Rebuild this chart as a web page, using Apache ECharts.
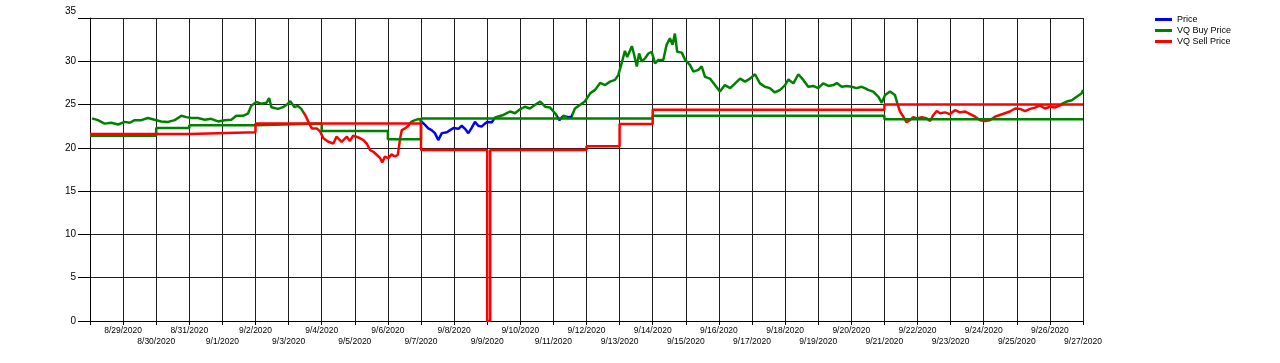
<!DOCTYPE html>
<html>
<head>
<meta charset="utf-8">
<script src="https://cdn.jsdelivr.net/npm/echarts@6/dist/echarts.min.js"></script>
<style>
html,body{margin:0;padding:0;background:#fff;}
#chart{width:1280px;height:363px;}
</style>
</head>
<body>
<div id="chart"></div>
<script>
// x values are days since 8/28/2020
const startYear = 2020, startMonth = 7, startDay = 28;
const seriesNames = ['Price', 'VQ Buy Price', 'VQ Sell Price'];

const priceX = [0.06,0.24,0.44,0.64,0.85,1.05,1.20,1.35,1.55,1.75,1.95,2.15,2.36,2.56,2.76,2.91,3.06,3.26,3.47,3.66,3.87,4.07,4.27,4.42,4.62,4.77,4.87,5.02,5.18,5.33,5.41,5.48,5.68,5.83,5.98,6.05,6.18,6.28,6.38,6.50,6.60,6.70,6.85,6.95,7.05,7.20,7.35,7.45,7.60,7.76,7.85,7.95,8.11,8.26,8.36,8.46,8.56,8.66,8.76,8.83,8.91,9.01,9.11,9.21,9.30,9.37,9.42,9.52,9.62,9.70,9.82,9.94,10.00,10.12,10.22,10.32,10.42,10.52,10.63,10.78,10.88,10.98,11.13,11.23,11.33,11.43,11.53,11.63,11.73,11.83,11.93,12.01,12.14,12.24,12.49,12.69,12.84,12.99,13.14,13.29,13.44,13.60,13.75,13.90,14.05,14.18,14.30,14.45,14.55,14.65,14.80,14.95,15.11,15.26,15.41,15.56,15.71,15.86,15.96,16.06,16.16,16.23,16.37,16.43,16.52,16.59,16.67,16.77,16.87,16.97,17.07,17.17,17.32,17.42,17.52,17.60,17.67,17.74,17.88,17.98,18.13,18.23,18.38,18.48,18.58,18.73,18.88,19.03,19.18,19.34,19.49,19.64,19.79,19.94,20.09,20.24,20.39,20.54,20.69,20.85,21.00,21.10,21.25,21.40,21.55,21.70,21.85,22.00,22.15,22.31,22.46,22.56,22.71,22.86,23.01,23.16,23.31,23.41,23.51,23.66,23.82,23.92,24.02,24.17,24.32,24.39,24.47,24.57,24.67,24.77,24.87,24.98,25.13,25.28,25.38,25.48,25.58,25.68,25.83,25.98,26.13,26.28,26.44,26.59,26.74,26.89,27.04,27.19,27.34,27.49,27.64,27.79,27.95,28.10,28.25,28.40,28.55,28.70,28.85,29.00,29.15,29.31,29.39,29.51,29.66,29.81,29.96,30.00];
const priceY = [23.4,23.2,22.8,22.9,22.7,23.0,22.9,23.2,23.2,23.45,23.25,23.05,23.0,23.2,23.7,23.55,23.45,23.45,23.25,23.35,23.05,23.2,23.25,23.7,23.7,23.95,24.85,25.3,25.1,25.2,25.75,24.7,24.5,24.7,25.1,25.4,24.7,24.85,24.5,23.8,23.0,22.25,22.25,21.9,21.1,20.7,20.5,21.3,20.7,21.3,20.8,21.4,21.2,20.9,20.5,19.75,19.55,19.2,18.85,18.3,19.0,18.8,19.25,19.0,19.2,21.1,22.05,22.25,22.55,23.0,23.2,23.35,23.1,22.65,22.25,22.05,21.7,20.9,21.7,21.8,22.05,22.3,22.2,22.55,22.2,21.7,22.3,23.0,22.55,22.45,22.8,23.0,22.95,23.5,23.8,24.2,24.0,24.45,24.75,24.55,24.95,25.35,24.75,24.65,24.0,23.2,23.7,23.55,23.6,24.55,24.95,25.35,26.3,26.7,27.5,27.25,27.65,27.85,28.4,29.75,31.2,30.5,31.75,30.9,29.4,30.9,29.95,30.35,30.9,31.1,29.75,30.15,30.15,31.9,32.65,31.9,33.2,31.1,31.0,30.15,29.55,28.8,29.0,29.4,28.2,28.0,27.25,26.5,27.25,26.9,27.45,28.0,27.65,28.0,28.5,27.45,27.05,26.9,26.4,26.7,27.25,27.9,27.45,28.5,27.85,27.05,27.15,26.9,27.45,27.15,27.25,27.5,27.05,27.15,27.05,26.9,27.05,26.9,26.7,26.5,25.9,25.2,26.1,26.5,26.1,25.15,24.2,23.6,22.95,23.2,23.55,23.4,23.55,23.4,23.1,23.8,24.25,24.0,24.1,23.9,24.35,24.1,24.2,23.9,23.6,23.2,23.1,23.2,23.6,23.8,24.0,24.2,24.55,24.5,24.25,24.5,24.65,24.9,24.55,24.75,24.65,24.9,25.15,25.35,25.5,25.9,26.3,26.7];

// price segment colouring (x ranges, days)
const priceSegStart = [0, 6.48, 9.67, 10.01, 12.22, 14.12, 14.25, 14.42, 14.55, 24.39, 29.38];
const priceSegColor = ['#008000','#ff0000','#008000','#0000ff','#008000','#0000ff','#008000','#0000ff','#008000','#ff0000','#008000'];

const buyX = [0, 2, 3, 5, 7, 9, 10, 17, 24, 30];
const buyY = [21.4, 22.3, 22.6, 22.8, 21.95, 21.0, 23.4, 23.7, 23.3, 23.3];

const sellX = [0, 3, 5, 10, 12.0, 12.09, 15, 16, 17, 24, 30];
const sellY = [21.6, 21.8, 22.8, 19.75, 0, 19.75, 20.2, 22.75, 24.4, 25.0, 25.0];

const yTicks = [0, 5, 10, 15, 20, 25, 30, 35];

function pairs(xs, ys) { return xs.map((x, i) => [x, ys[i]]); }
function dayLabel(d) {
  const dt = new Date(startYear, startMonth, startDay + d);
  return (dt.getMonth() + 1) + '/' + dt.getDate() + '/' + dt.getFullYear();
}

const pieces = priceSegStart.map((s, i) => {
  const p = { color: priceSegColor[i] };
  if (i > 0) p.gte = s;
  if (i < priceSegStart.length - 1) p.lt = priceSegStart[i + 1];
  return p;
});

const labelFont = 'Liberation Sans, Arial, sans-serif';
const chart = echarts.init(document.getElementById('chart'), null, { renderer: 'canvas' });
const gridColor = '#1e1e1e';
chart.setOption({
  animation: false,
  backgroundColor: '#ffffff',
  grid: { left: 90, right: 197, top: 18, bottom: 42, outerBoundsMode: 'none' },
  legend: {
    orient: 'vertical', left: 1155, top: 14, padding: 0, itemGap: 0,
    itemWidth: 17, itemHeight: 3, icon: 'rect',
    textStyle: { fontFamily: labelFont, fontSize: 9, color: '#000', lineHeight: 11, padding: [0,0,0,0] },
    data: [
      { name: seriesNames[0], itemStyle: { color: '#0000ff' } },
      { name: seriesNames[1], itemStyle: { color: '#008000' } },
      { name: seriesNames[2], itemStyle: { color: '#ff0000' } }
    ]
  },
  visualMap: {
    show: false, type: 'piecewise', seriesIndex: 0, dimension: 0, pieces: pieces
  },
  xAxis: [
    {
      type: 'value', min: 0, max: 30, interval: 1, position: 'bottom',
      axisLine: { show: true, onZero: false, lineStyle: { color: '#000', width: 1 } },
      axisTick: { show: true, length: 4, lineStyle: { color: '#000' } },
      splitLine: { show: true, lineStyle: { color: gridColor, width: 1 } },
      axisLabel: {
        showMinLabel: true, showMaxLabel: true, hideOverlap: false,
        fontFamily: labelFont, fontSize: 8.5, color: '#000', margin: 5,
        formatter: function (v) {
          const d = Math.round(v);
          return (d % 2 === 1) ? dayLabel(d) : '';
        }
      }
    },
    {
      type: 'value', min: 0, max: 30, interval: 1, position: 'bottom', offset: 0,
      axisLine: { show: false, onZero: false },
      axisTick: { show: false },
      splitLine: { show: false },
      axisLabel: {
        showMinLabel: true, showMaxLabel: true, hideOverlap: false,
        fontFamily: labelFont, fontSize: 8.5, color: '#000', margin: 16,
        formatter: function (v) {
          const d = Math.round(v);
          return (d > 0 && d % 2 === 0) ? dayLabel(d) : '';
        }
      }
    }
  ],
  yAxis: {
    type: 'value', min: yTicks[0], max: yTicks[yTicks.length - 1], interval: 5,
    axisLine: { show: true, lineStyle: { color: '#000', width: 1 } },
    axisTick: { show: true, length: 12, lineStyle: { color: '#000' } },
    splitLine: { show: true, lineStyle: { color: gridColor, width: 1 } },
    axisLabel: {
      fontFamily: labelFont, fontSize: 10, color: '#000', margin: 14,
      formatter: function (v) { return v === 35 ? '{top|' + v + '}' : String(v); },
      rich: { top: { fontSize: 10, color: '#000', padding: [0, 0, 14, 0], fontFamily: labelFont } }
    }
  },
  series: [
    {
      name: seriesNames[0], type: 'line', color: '#0000ff', showSymbol: false,
      lineStyle: { width: 2.5 }, data: pairs(priceX, priceY), z: 2
    },
    {
      name: seriesNames[1], type: 'line', color: '#008000', showSymbol: false, step: 'end',
      lineStyle: { width: 2.5, color: '#008000' }, data: pairs(buyX, buyY), z: 3
    },
    {
      name: seriesNames[2], type: 'line', color: '#ff0000', showSymbol: false, step: 'end',
      lineStyle: { width: 2.5, color: '#ff0000' }, data: pairs(sellX, sellY), z: 4
    }
  ]
});
</script>
</body>
</html>
